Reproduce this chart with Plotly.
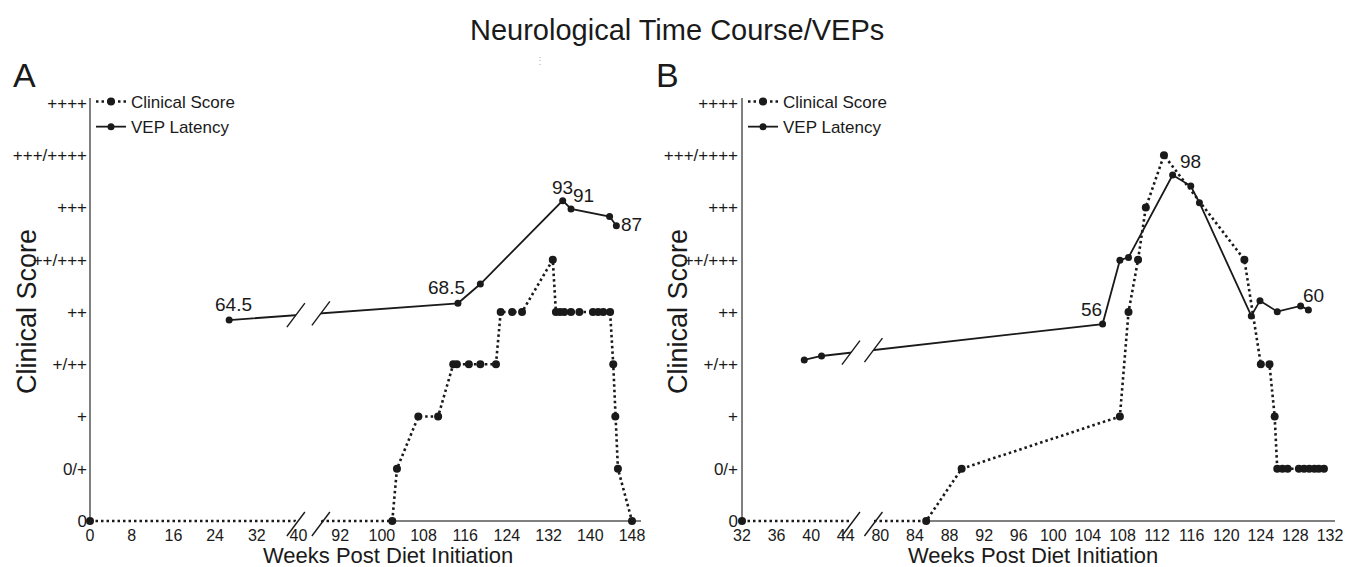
import plotly.graph_objects as go
import numpy as np

W, H = 1355, 567
FONT = "Liberation Sans, Arial, Helvetica, sans-serif"
INK = "#1a1a1a"
AXC = "#808080"

# ---------------- data ----------------
score_labels = ["0", "0/+", "+", "+/++", "++", "++/+++", "+++", "+++/++++", "++++"]

# Panel A
a_ticks = [0, 8, 16, 24, 32, 40, 92, 100, 108, 116, 124, 132, 140, 148]
a_clin_weeks = [0, 102.0, 102.9, 107.0, 110.8, 113.7, 114.4, 116.7, 118.9, 121.9,
                122.8, 125.0, 126.9, 132.8, 133.4, 134.2, 135.0, 136.3, 137.9,
                140.5, 141.5, 142.5, 143.8, 144.4, 144.8, 145.3, 148.0]
a_clin_score = [0, 0, 1, 2, 2, 3, 3, 3, 3, 3, 4, 4, 4, 5, 4, 4, 4, 4, 4,
                4, 4, 4, 4, 3, 2, 1, 0]
a_vep_weeks = [26.7, 114.6, 118.9, 134.7, 136.3, 143.7, 145.0]
a_vep_ms = [64.5, 68.5, 73.1, 93, 91, 89.2, 87]
a_vep_labels = ["64.5", "68.5", "", "93", "91", "", "87"]

# Panel B
b_ticks = [32, 36, 40, 44, 80, 84, 88, 92, 96, 100, 104, 108, 112, 116, 120, 124, 128, 132]
b_clin_weeks = [32, 85.3, 89.4, 107.7, 108.7, 109.8, 110.7, 112.8, 122.1, 124.0,
                125.0, 125.6, 125.9, 126.5, 127.1, 128.4, 129.0, 129.6, 130.2, 130.7, 131.3]
b_clin_score = [0, 0, 1, 2, 4, 5, 6, 7, 5, 3, 3, 2, 1, 1, 1, 1, 1, 1, 1, 1, 1]
b_vep_weeks = [39.2, 41.2, 105.7, 107.7, 108.7, 113.8, 115.9, 116.9, 122.9, 123.9, 125.9, 128.6, 129.5]
b_vep_ms = [45.9, 47.0, 56, 74.0, 74.8, 98, 94.9, 90.2, 58.3, 62.6, 59.5, 61.1, 60]
b_vep_labels = ["", "", "56", "", "", "98", "", "", "", "", "", "", "60"]

# ---------------- axis breaks ----------------
def pos_a(w):
    return w if w <= 40 else w - 44


def pos_b(w):
    return w if w <= 44 else w - 32


# ---------------- geometry (pixels) ----------------
A_PX = (90, 641)
B_PX = (742, 1335)
Y0_PX, Y8_PX = 521, 103
LV = (Y0_PX - Y8_PX) / 8.0
YR = [-0.06, 8.1]
A_XR = [0, 104 + (A_PX[1] - 632) / (542 / 104)]
B_XR = [32, 100 + (B_PX[1] - 1330) / ((1330 - 742) / 68)]
# hidden latency axes (ms) aligned with the score scale
A_MS0, A_MSK = 16.54, 12.47
B_MS0, B_MSK = 0.48, 14.73
A_Y2R = [A_MS0 + A_MSK * YR[0], A_MS0 + A_MSK * YR[1]]
B_Y2R = [B_MS0 + B_MSK * YR[0], B_MS0 + B_MSK * YR[1]]

ybot_px = Y0_PX - YR[0] * LV
ytop_px = Y0_PX - YR[1] * LV
YDOM = [(H - ybot_px) / H, (H - ytop_px) / H]
ADOM = [A_PX[0] / W, A_PX[1] / W]
BDOM = [B_PX[0] / W, B_PX[1] / W]


def xpx(panel, p):
    px0, px1 = (A_PX, B_PX)[panel]
    r = (A_XR, B_XR)[panel]
    return px0 + (p - r[0]) / (r[1] - r[0]) * (px1 - px0)


def ypx_level(L):
    return Y0_PX - L * LV


def PX(x):
    return x / W


def PY(y):
    return (H - y) / H


fig = go.Figure()

panels = [
    dict(xa="x", ya="y", ya2="y2", leg="legend", pos=pos_a,
         cw=a_clin_weeks, cs=a_clin_score, vw=a_vep_weeks, vm=a_vep_ms, vl=a_vep_labels),
    dict(xa="x2", ya="y3", ya2="y4", leg="legend2", pos=pos_b,
         cw=b_clin_weeks, cs=b_clin_score, vw=b_vep_weeks, vm=b_vep_ms, vl=b_vep_labels),
]

for P in panels:
    cx = [P["pos"](w) for w in P["cw"]]
    vx = [P["pos"](w) for w in P["vw"]]
    # white underlay hides the axis where the score runs along zero
    fig.add_trace(go.Scatter(x=cx, y=P["cs"], mode="lines", xaxis=P["xa"], yaxis=P["ya"],
                             line=dict(color="white", width=6), showlegend=False,
                             hoverinfo="skip"))
    fig.add_trace(go.Scatter(x=cx, y=P["cs"], mode="lines+markers", name="Clinical Score",
                             xaxis=P["xa"], yaxis=P["ya"], legend=P["leg"],
                             line=dict(color=INK, width=2.6, dash="2.5px,3px"),
                             marker=dict(color=INK, size=8), cliponaxis=False))
    fig.add_trace(go.Scatter(x=vx, y=P["vm"], mode="lines+markers", name="VEP Latency",
                             xaxis=P["xa"], yaxis=P["ya2"], legend=P["leg"],
                             line=dict(color=INK, width=1.8),
                             marker=dict(color=INK, size=7), cliponaxis=False))

tickfont = dict(family=FONT, size=16, color=INK)
ytickfont = dict(family=FONT, size=17, color=INK)
legfont = dict(family=FONT, size=17, color=INK)

fig.update_layout(
    template=go.layout.Template(),
    width=W, height=H, autosize=False,
    margin=dict(l=0, r=0, t=0, b=0),
    paper_bgcolor="white", plot_bgcolor="white",
    font=dict(family=FONT, color=INK),
    xaxis=dict(domain=ADOM, range=A_XR, anchor="y", showgrid=False, zeroline=False,
               showline=False, ticks="", tickvals=[pos_a(t) for t in a_ticks],
               ticktext=[str(t) for t in a_ticks], tickfont=tickfont, automargin=False),
    yaxis=dict(domain=YDOM, range=YR, anchor="x", showgrid=False, zeroline=True,
               zerolinecolor=AXC, zerolinewidth=2, showline=False, ticks="",
               tickvals=list(range(9)), ticktext=score_labels, tickfont=ytickfont,
               automargin=False, ticklabelstandoff=2),
    yaxis2=dict(overlaying="y", range=A_Y2R, anchor="x", visible=False),
    xaxis2=dict(domain=BDOM, range=B_XR, anchor="y3", showgrid=False, zeroline=False,
                showline=False, ticks="", tickvals=[pos_b(t) for t in b_ticks],
                ticktext=[str(t) for t in b_ticks], tickfont=tickfont, automargin=False),
    yaxis3=dict(domain=YDOM, range=YR, anchor="x2", showgrid=False, zeroline=True,
                zerolinecolor=AXC, zerolinewidth=2, showline=False, ticks="",
                tickvals=list(range(9)), ticktext=score_labels, tickfont=ytickfont,
                automargin=False, ticklabelstandoff=3),
    yaxis4=dict(overlaying="y3", range=B_Y2R, anchor="x2", visible=False),
    legend=dict(x=PX(91), y=PY(84), xanchor="left", yanchor="top",
                bgcolor="rgba(0,0,0,0)", font=legfont, tracegroupgap=0, itemwidth=30),
    legend2=dict(x=PX(743), y=PY(84), xanchor="left", yanchor="top",
                 bgcolor="rgba(0,0,0,0)", font=legfont, tracegroupgap=0, itemwidth=30),
    showlegend=True,
)

shapes = []
annotations = []

# y-axis lines
for px0 in (A_PX[0], B_PX[0]):
    shapes.append(dict(type="line", xref="paper", yref="paper", layer="below",
                       x0=PX(px0), x1=PX(px0), y0=PY(Y0_PX), y1=PY(98),
                       line=dict(color=AXC, width=2)))

# axis breaks
breaks = [
    (0, (39.5, 44.3), a_vep_weeks, a_vep_ms, A_MS0, A_MSK, pos_a),
    (1, (44.6, 47.2), b_vep_weeks, b_vep_ms, B_MS0, B_MSK, pos_b),
]
SW, SH = 9, 12
for panel, bps, vw, vm, ms0, msk, pf in breaks:
    vxp = [pf(w) for w in vw]
    vy_lvl = [(m - ms0) / msk for m in vm]
    rows = []
    for bp in bps:
        cxp = xpx(panel, bp)
        lvl = float(np.interp(bp, vxp, vy_lvl))
        rows.append((cxp, ypx_level(lvl), ypx_level(0) + 3))
    for k in (1, 2):
        (x1, y1a, y1b), (x2, y2a, y2b) = rows
        ya, yb = (y1a, y2a) if k == 1 else (y1b - 3, y2b - 3)
        h = 7 if k == 1 else 3.5
        path = (f"M {PX(x1 - SW*h/SH)},{PY(ya + h)} L {PX(x1 + SW*h/SH)},{PY(ya - h)} "
                f"L {PX(x2 + SW*h/SH)},{PY(yb - h)} L {PX(x2 - SW*h/SH)},{PY(yb + h)} Z")
        shapes.append(dict(type="path", xref="paper", yref="paper", path=path,
                           fillcolor="white", line=dict(width=0), layer="above"))
    for cxp, yv, ya in rows:
        for cy in (yv, ya):
            shapes.append(dict(type="line", xref="paper", yref="paper", layer="above",
                               x0=PX(cxp - SW), y0=PY(cy + SH), x1=PX(cxp + SW), y1=PY(cy - SH),
                               line=dict(color=INK, width=1.4)))

# data labels
lab_fmt = {
    "64.5": dict(xanchor="center", yanchor="bottom", xshift=4, yshift=3),
    "68.5": dict(xanchor="center", yanchor="bottom", xshift=-11, yshift=3),
    "93": dict(xanchor="center", yanchor="bottom", xshift=0, yshift=1),
    "91": dict(xanchor="left", yanchor="bottom", xshift=0, yshift=1),
    "87": dict(xanchor="left", yanchor="middle", xshift=3, yshift=1),
    "56": dict(xanchor="right", yanchor="bottom", xshift=1, yshift=2),
    "98": dict(xanchor="left", yanchor="bottom", xshift=5, yshift=1),
    "60": dict(xanchor="center", yanchor="bottom", xshift=5, yshift=2),
}
for P in panels:
    for w, m, lab in zip(P["vw"], P["vm"], P["vl"]):
        if not lab:
            continue
        annotations.append(dict(x=P["pos"](w), y=m, xref=P["xa"], yref=P["ya2"], text=lab,
                                showarrow=False, font=dict(family=FONT, size=19, color=INK),
                                **lab_fmt[lab]))

# titles and labels
annotations += [
    dict(x=PX(677), y=PY(30), xref="paper", yref="paper", text="Neurological Time Course/VEPs",
         showarrow=False, xanchor="center", yanchor="middle",
         font=dict(family=FONT, size=29, color=INK)),
    dict(x=PX(24), y=PY(75), xref="paper", yref="paper", text="A", showarrow=False,
         xanchor="center", yanchor="middle", font=dict(family=FONT, size=34, color=INK)),
    dict(x=PX(667), y=PY(75), xref="paper", yref="paper", text="B", showarrow=False,
         xanchor="center", yanchor="middle", font=dict(family=FONT, size=34, color=INK)),
    dict(x=PX(388), y=PY(555), xref="paper", yref="paper", text="Weeks Post Diet Initiation",
         showarrow=False, xanchor="center", yanchor="middle",
         font=dict(family=FONT, size=22, color=INK)),
    dict(x=PX(1033), y=PY(555), xref="paper", yref="paper", text="Weeks Post Diet Initiation",
         showarrow=False, xanchor="center", yanchor="middle",
         font=dict(family=FONT, size=22, color=INK)),
    dict(x=PX(27), y=PY(312), xref="paper", yref="paper", text="Clinical Score",
         showarrow=False, textangle=-90, xanchor="center", yanchor="middle",
         font=dict(family=FONT, size=27, color=INK)),
    dict(x=PX(678), y=PY(312), xref="paper", yref="paper", text="Clinical Score",
         showarrow=False, textangle=-90, xanchor="center", yanchor="middle",
         font=dict(family=FONT, size=27, color=INK)),
    dict(x=PX(540), y=PY(60), xref="paper", yref="paper", text="⋮", showarrow=False,
         xanchor="center", yanchor="middle", font=dict(family=FONT, size=10, color="#b0b0b0")),
]

fig.update_layout(shapes=shapes, annotations=annotations)
fig.write_html("out.html", config={"displayModeBar": False},
               post_script="document.body.style.margin='0';document.body.style.overflow='hidden';")
